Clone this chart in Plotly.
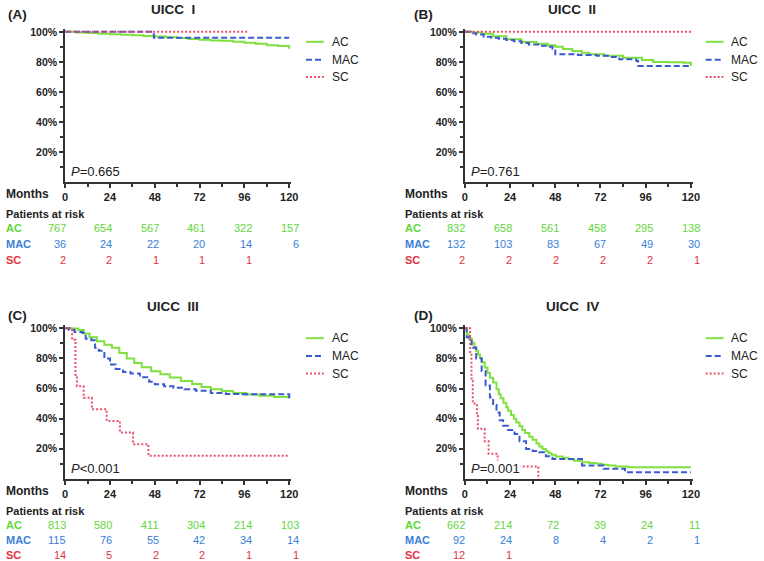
import plotly.graph_objects as go

W, H = 764, 561
FONT = "Liberation Sans, Arial, sans-serif"

# ---------------- data ----------------
groups = ["AC", "MAC", "SC"]
risk_months = [0, 24, 48, 72, 96, 120]
minor_months = [12, 36, 60, 84, 108]
pct_ticks = [20, 40, 60, 80, 100]
pct_labels = ["20%", "40%", "60%", "80%", "100%"]
minor_pct = [10, 30, 50, 70, 90]

panel_titles = ["UICC\u00a0\u00a0I", "UICC\u00a0\u00a0II", "UICC\u00a0\u00a0III", "UICC\u00a0\u00a0IV"]
panel_tags = ["(A)", "(B)", "(C)", "(D)"]
p_texts = ["<i>P</i>=0.665", "<i>P</i>=0.761", "<i>P</i>&lt;0.001", "<i>P</i>=0.001"]

# Panel A  (UICC I)
A_AC_t = [0, 6, 12, 18, 24, 30, 36, 42, 48, 54, 60, 66, 72, 78, 84, 90, 96, 102, 108, 114, 120]
A_AC_s = [100, 99.6, 99.2, 98.8, 98.4, 98.0, 97.7, 97.3, 96.9, 96.4, 95.9, 95.3, 94.8, 94.3, 94.0, 93.4, 92.8, 92.0, 91.0, 90.5, 88.8]
A_MAC_t = [0, 47.5, 120]
A_MAC_s = [100, 96, 96]
A_SC_t = [0, 98]
A_SC_s = [100, 100]

# Panel B  (UICC II)
B_AC_t = [0, 4, 9, 15, 22, 30, 38, 44, 48, 52, 57, 62, 66, 74, 84, 94, 100, 108, 116, 120]
B_AC_s = [100, 99.5, 98.7, 97, 95, 93.2, 92, 91, 90, 88.5, 87.2, 86, 85, 84, 82.8, 81.2, 80, 79.7, 79.5, 77.3]
B_MAC_t = [0, 3, 6, 10, 14, 18, 22, 26, 30, 34, 40, 43, 46.5, 48, 60, 70, 78, 82, 91, 92, 120]
B_MAC_s = [100, 99, 98.2, 96.7, 96, 95.4, 94.6, 93.8, 92.5, 91.6, 90.8, 90, 88.7, 85, 84.5, 84, 83.2, 81.7, 80.6, 77.3, 77.3]
B_SC_t = [0, 120]
B_SC_s = [100, 100]

# Panel C  (UICC III)
C_AC_t = [0, 4, 7, 10, 13, 17, 21, 25, 29, 33, 37, 41, 46, 51, 56, 62, 68, 73, 78, 84, 90, 97, 104, 112, 120]
C_AC_s = [100, 99.8, 98.8, 96.5, 94, 91.4, 89, 87, 83.5, 80, 77, 74.2, 71.5, 69.4, 67.3, 65, 63, 61, 59.5, 58.4, 57, 56, 55.2, 54.3, 53.6]
C_MAC_t = [0, 2, 5, 9, 11, 14, 16, 18, 21, 24, 27, 31, 35, 40, 45, 48, 53, 58, 64, 70, 78, 86, 95, 119.5, 120]
C_MAC_s = [100, 99, 97.5, 97, 93, 92, 87, 85, 80, 76, 73, 71, 70, 67.5, 64.5, 62.8, 61.5, 60.6, 59.5, 58.5, 57, 56.3, 56.2, 56.2, 53]
C_SC_t = [0, 3.7, 5.5, 6.3, 9.9, 14.3, 22.2, 29.3, 36.3, 44.6, 120]
C_SC_s = [100, 92.3, 69.2, 61.5, 53.8, 46.2, 38.5, 30.8, 23.1, 15.4, 15.4]

# Panel D  (UICC IV)
D_AC_t = [0, 1, 2, 3.6, 5, 6, 7, 8, 9, 10.5, 12, 13.3, 15, 16.8, 18, 19, 20.5, 22, 23, 24.5, 26, 27.3, 29, 30.5, 32, 34.2, 36, 38, 39.5, 41.2, 43, 44.5, 46, 48.2, 52, 55, 58, 62.2, 66, 70, 73, 76.2, 80, 86.7, 120]
D_AC_s = [100, 96, 93, 90.3, 87.5, 85, 82.5, 80.4, 77.5, 74, 70.5, 67.2, 64, 59.5, 56.2, 53.5, 50.5, 47.5, 45.2, 42.5, 40, 37.5, 35, 32.5, 30.5, 28, 26, 23.5, 21.5, 19.9, 18.3, 17, 16, 14.9, 14, 13, 12, 11.1, 10.5, 10, 9.4, 8.9, 8.3, 7.8, 7.8]
D_MAC_t = [0, 1, 3.6, 6, 8.9, 11, 13.3, 15, 16.8, 18.5, 20.3, 23, 26.4, 29, 32.5, 36, 39.5, 43, 46.5, 62.2, 73.6, 85, 120]
D_MAC_s = [100, 94, 87, 80, 71.6, 62, 54, 49, 44.1, 39, 35.3, 32.5, 29.8, 25, 19.9, 18.5, 17.7, 15, 13.3, 8.9, 6.7, 4.5, 4.5]
D_SC_t = [0, 2.8, 3.5, 4.2, 6.4, 6.9, 10.5, 12.6, 17.4, 39]
D_SC_s = [100, 83.3, 66.7, 50, 41.7, 33.3, 25, 16.7, 8.3, 0]

# Patients at risk
A_risk_AC = [767, 654, 567, 461, 322, 157]
A_risk_MAC = [36, 24, 22, 20, 14, 6]
A_risk_SC = [2, 2, 1, 1, 1]
B_risk_AC = [832, 658, 561, 458, 295, 138]
B_risk_MAC = [132, 103, 83, 67, 49, 30]
B_risk_SC = [2, 2, 2, 2, 2, 1]
C_risk_AC = [813, 580, 411, 304, 214, 103]
C_risk_MAC = [115, 76, 55, 42, 34, 14]
C_risk_SC = [14, 5, 2, 2, 1, 1]
D_risk_AC = [662, 214, 72, 39, 24, 11]
D_risk_MAC = [92, 24, 8, 4, 2, 1]
D_risk_SC = [12, 1]

curves = [
    [(A_AC_t, A_AC_s), (A_MAC_t, A_MAC_s), (A_SC_t, A_SC_s)],
    [(B_AC_t, B_AC_s), (B_MAC_t, B_MAC_s), (B_SC_t, B_SC_s)],
    [(C_AC_t, C_AC_s), (C_MAC_t, C_MAC_s), (C_SC_t, C_SC_s)],
    [(D_AC_t, D_AC_s), (D_MAC_t, D_MAC_s), (D_SC_t, D_SC_s)],
]
risks = [
    [A_risk_AC, A_risk_MAC, A_risk_SC],
    [B_risk_AC, B_risk_MAC, B_risk_SC],
    [C_risk_AC, C_risk_MAC, C_risk_SC],
    [D_risk_AC, D_risk_MAC, D_risk_SC],
]

# ---------------- styles ----------------
line_styles = [
    dict(color="#7FE03F", width=2, dash="solid"),
    dict(color="#3A5BD0", width=2, dash="6px,3px"),
    dict(color="#E8506A", width=2, dash="2px,2px"),
]
text_colors = ["#62D63A", "#3A80D8", "#E2323F"]
INK = "#222222"
AXC = "#333333"

# panel geometry in pixels
panels = [
    dict(x0=63, x120=290, y0=180, y100=29, left=1, tag_x=3, tag_y=12, title_y=7, rows=[46.7, 62.3, 78.5]),
    dict(x0=468, x120=697, y0=180, y100=29, left=405, tag_x=414, tag_y=12, title_y=7, rows=[46.7, 62.3, 78.5]),
    dict(x0=63, x120=290, y0=478.5, y100=327, left=1, tag_x=3, tag_y=314, title_y=305, rows=[46.2, 61.6, 76.8]),
    dict(x0=468, x120=697, y0=478.5, y100=327, left=405, tag_x=414, tag_y=314, title_y=305, rows=[46.2, 61.6, 76.8]),
]
XMAX, YMAX = 121, 102


def px(x):
    return x / W


def py(y):
    return 1 - y / H


fig = go.Figure()
annotations = []
shapes = []
layout_axes = {}

for i, pn in enumerate(panels):
    k = "" if i == 0 else str(i + 1)
    xa, ya = "x" + k, "y" + k
    xdom = [px(pn["x0"]), px(pn["x0"] + (pn["x120"] - pn["x0"]) * XMAX / 120)]
    ydom = [py(pn["y0"]), py(pn["y0"] - (pn["y0"] - pn["y100"]) * YMAX / 100)]
    layout_axes["xaxis" + k] = dict(
        domain=xdom, anchor=ya, range=[0, XMAX],
        tickmode="array", tickvals=risk_months, ticktext=[str(m) for m in risk_months],
        ticks="outside", ticklen=4, tickwidth=1.5, tickcolor=AXC,
        showline=True, linecolor=AXC, linewidth=2,
        showgrid=False, zeroline=False,
        tickfont=dict(family=FONT, size=11, color=INK, weight="bold"),
        minor=dict(tickmode="array", tickvals=minor_months, ticks="outside", ticklen=3,
                   tickwidth=1.5, tickcolor=AXC, showgrid=False),
        fixedrange=True,
    )
    layout_axes["yaxis" + k] = dict(
        domain=ydom, anchor=xa, range=[0, YMAX],
        tickmode="array", tickvals=pct_ticks, ticktext=pct_labels,
        ticks="outside", ticklen=4, tickwidth=1.5, tickcolor=AXC,
        showline=True, linecolor=AXC, linewidth=2,
        showgrid=False, zeroline=False,
        tickfont=dict(family=FONT, size=10.5, color=INK, weight="bold"),
        minor=dict(tickmode="array", tickvals=minor_pct, ticks="outside", ticklen=3,
                   tickwidth=1.5, tickcolor=AXC, showgrid=False),
        fixedrange=True,
    )

    # curves
    for g, (t, s) in enumerate(curves[i]):
        fig.add_trace(go.Scatter(
            x=t, y=s, mode="lines", name=groups[g],
            line=dict(shape="hv", **line_styles[g]),
            xaxis=xa, yaxis=ya, showlegend=False, hoverinfo="skip",
        ))

    # title & tag
    annotations.append(dict(text="<b>" + panel_titles[i] + "</b>", x=px(pn["x0"] + 109), y=py(pn["title_y"]),
                            xref="paper", yref="paper", xanchor="center", yanchor="middle", showarrow=False,
                            font=dict(family=FONT, size=13.5, color=INK)))
    annotations.append(dict(text="<b>" + panel_tags[i] + "</b>", x=px(pn["tag_x"]), y=py(pn["tag_y"]),
                            xref="paper", yref="paper", xanchor="left", yanchor="middle", showarrow=False,
                            font=dict(family=FONT, size=13.5, color=INK)))

    # legend (drawn manually)
    lx = pn["x0"] + 244
    for g in range(3):
        ry = pn["y100"] + [10, 28, 45.5][g]
        shapes.append(dict(type="line", xref="paper", yref="paper",
                           x0=px(lx), x1=px(lx + 18), y0=py(ry), y1=py(ry),
                           line=dict(color=line_styles[g]["color"], width=2, dash=line_styles[g]["dash"])))
        annotations.append(dict(text=groups[g], x=px(lx + 24), y=py(ry), xref="paper", yref="paper",
                                xanchor="left", yanchor="middle", showarrow=False,
                                font=dict(family=FONT, size=12, color=INK)))

    # P value
    annotations.append(dict(text=p_texts[i], x=px(pn["x0"] + 5), y=py(pn["y0"] - 11), xref="paper", yref="paper",
                            xanchor="left", yanchor="middle", showarrow=False, bgcolor="white", borderpad=0,
                            font=dict(family=FONT, size=13, color=INK)))

    # Months label & risk table
    y0 = pn["y0"]
    annotations.append(dict(text="<b>Months</b>", x=px(pn["left"]), y=py(y0 + 12), xref="paper", yref="paper",
                            xanchor="left", yanchor="middle", showarrow=False,
                            font=dict(family=FONT, size=12, color=INK)))
    annotations.append(dict(text="<b>Patients at risk</b>", x=px(pn["left"]), y=py(y0 + 32), xref="paper",
                            yref="paper", xanchor="left", yanchor="middle", showarrow=False,
                            font=dict(family=FONT, size=11, color=INK)))
    step = (pn["x120"] - pn["x0"]) * 1.04 / 5
    for g in range(3):
        ry = y0 + pn["rows"][g]
        annotations.append(dict(text="<b>" + groups[g] + "</b>", x=px(pn["left"]), y=py(ry), xref="paper",
                                yref="paper", xanchor="left", yanchor="middle", showarrow=False,
                                font=dict(family=FONT, size=11, color=text_colors[g])))
        for j, v in enumerate(risks[i][g]):
            annotations.append(dict(text=str(v), x=px(pn["x0"] + 2.5 + j * step), y=py(ry), xref="paper",
                                    yref="paper", xanchor="right", yanchor="middle", showarrow=False,
                                    font=dict(family=FONT, size=11, color=text_colors[g])))

fig.update_layout(
    width=W, height=H, margin=dict(l=0, r=0, t=0, b=0),
    paper_bgcolor="white", plot_bgcolor="white",
    font=dict(family=FONT, color=INK),
    showlegend=False,
    annotations=annotations, shapes=shapes,
    **layout_axes,
)

post = (
    "document.body.style.margin='0px';"
    "document.body.style.overflow='hidden';"
    "var gd=document.getElementById('{plot_id}');"
    "gd.style.position='absolute';gd.style.left='0px';gd.style.top='0px';"
)
fig.write_html("out.html", config={"displayModeBar": False}, post_script=post)
